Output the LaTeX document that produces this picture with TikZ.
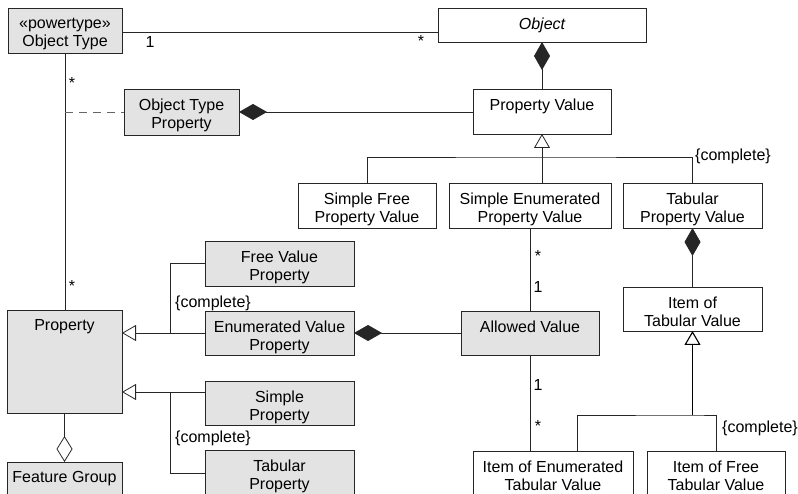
\documentclass[tikz,border=0pt]{standalone}
\usepackage{fontspec}
\setmainfont{Liberation Sans}
\usetikzlibrary{arrows.meta,calc}
\newcommand\umlbox[7]{%
  \node[#2, minimum width=#5pt, minimum height=#6pt, anchor=north] (#1) at (#3,#4) {};
  \node[txt] (#1-t) at (#1.north) {#7};}
\begin{document}
\begin{tikzpicture}[x=1pt,y=-1pt,
  box/.style={draw=black!85, line width=0.8pt, fill=white, inner sep=0pt, outer sep=0pt},
  gbox/.style={box, fill=gray!22},
  txt/.style={anchor=north, align=center, inner sep=0pt, yshift=-9.5pt, font=\fontsize{16}{18.5}\selectfont},
  mult/.style={anchor=base, inner sep=0pt, font=\fontsize{16}{18}\selectfont},
  cmpl/.style={anchor=base west, inner sep=0pt, font=\fontsize{16}{18}\selectfont},
  conn/.style={line width=0.8pt, draw=black!85},
  comp/.style={{Diamond[length=28pt,width=16pt]}-},
  aggr/.style={{Diamond[open,length=26pt,width=16pt]}-},
  gen/.style={-{Triangle[open,length=14pt,width=16pt]}}
]
\useasboundingbox (0,0) rectangle (798,494);
\clip (0,0) rectangle (798,494);

% boxes
\umlbox{ot}{gbox}{65}{8}{114}{45}{«powertype»\\Object Type}
\umlbox{obj}{box}{542}{8}{208}{34}{\itshape Object}
\umlbox{otp}{gbox}{181.5}{89}{115}{46}{Object Type\\Property}
\umlbox{pv}{box}{542}{89}{138}{45}{Property Value}
\umlbox{sfpv}{box}{367}{183}{138}{45}{Simple Free\\Property Value}
\umlbox{sepv}{box}{530}{183}{162}{45}{Simple Enumerated\\Property Value}
\umlbox{tpv}{box}{692.5}{183}{139}{45}{Tabular\\Property Value}
\umlbox{fvp}{gbox}{279.5}{241}{149}{45}{Free Value\\Property}
\umlbox{evp}{gbox}{279.5}{311}{149}{44}{Enumerated Value\\Property}
\umlbox{av}{gbox}{530}{311}{138}{44}{Allowed Value}
\umlbox{itv}{box}{692.5}{287}{139}{44}{Item of\\Tabular Value}
\umlbox{prop}{gbox}{64.5}{310}{115}{103}{Property}
\umlbox{sp}{gbox}{279.5}{381}{149}{44}{Simple\\Property}
\umlbox{tp}{gbox}{279.5}{450}{149}{46}{Tabular\\Property}
\umlbox{fg}{gbox}{64.5}{462}{115}{46}{Feature Group}
\umlbox{ietv}{box}{553}{451}{160}{46}{Item of Enumerated\\Tabular Value}
\umlbox{iftv}{box}{716}{451}{138}{46}{Item of Free\\Tabular Value}

% Object Type -- Object
\draw[conn] (ot.east |- 0,32) -- (obj.west |- 0,32);
\node[mult] (m1) at (150,47.5) {1};
\node[mult] (m2) at (421,47) {*};

% Object <>-- Property Value
\draw[conn, comp] (obj.south) -- (pv.north);
% Object Type Property <>-- Property Value
\draw[conn, comp] (otp.east) -- (pv.west |- otp.east);

% Object Type -- Property
\draw[conn] (ot.south) -- (ot.south |- prop.north);
\node[mult] (m3) at (72,89) {*};
\node[mult] (m4) at (72,292) {*};
\draw[conn, draw=black!60, dash pattern=on 8pt off 6pt] (ot.south |- otp.west) -- (otp.west);

% Property Value generalization
\coordinate (g1) at (pv.south |- 0,157);
\draw[conn, gen] (g1) -- (pv.south);
\draw[conn] (sfpv.north) |- (g1) -| (tpv.north);
\draw[conn] (g1) -- (g1 |- sepv.north);
\node[cmpl] (c1) at (695,161) {\{complete\}};

% Tabular PV <>-- Item of Tabular Value
\draw[conn, comp] (tpv.south) -- (itv.north);

% Simple Enumerated PV -- Allowed Value
\draw[conn] (sepv.south) -- (av.north);
\node[mult] (m5) at (538,262) {*};
\node[mult] (m6) at (538,292.5) {1};

% Allowed Value -- Item of Enumerated Tabular Value
\draw[conn] (av.south) -- (av.south |- ietv.north);
\node[mult] (m7) at (538,390.5) {1};
\node[mult] (m8) at (538,431) {*};

% Item of Tabular Value generalization
\coordinate (g2) at (itv.south |- 0,415);
\coordinate (g2l) at (577,415);
\draw[conn, gen, line width=1.1pt, draw=black] (g2) -- (itv.south);
\draw[conn] (g2l |- ietv.north) |- (g2) -| (iftv.north);
\node[cmpl] (c2) at (722,432) {\{complete\}};

% Enumerated Value Property <>-- Allowed Value
\draw[conn, comp] (evp.east) -- (av.west |- evp.east);

% Property generalizations
\coordinate (h1) at (evp.west -| 170,0);
\draw[conn, gen] (h1) -- (prop.east |- h1);
\draw[conn] (fvp.west) -| (h1) -- (evp.west);
\node[cmpl] (c3) at (175,308) {\{complete\}};

\coordinate (h2) at (170,392);
\draw[conn, gen] (h2) -- (prop.east |- h2);
\draw[conn] (sp.west |- h2) -- (h2) |- (tp.west);
\node[cmpl] (c4) at (175,442) {\{complete\}};

% Property -- Feature Group
\draw[conn, aggr] (fg.north) -- (prop.south);
\end{tikzpicture}
\end{document}
